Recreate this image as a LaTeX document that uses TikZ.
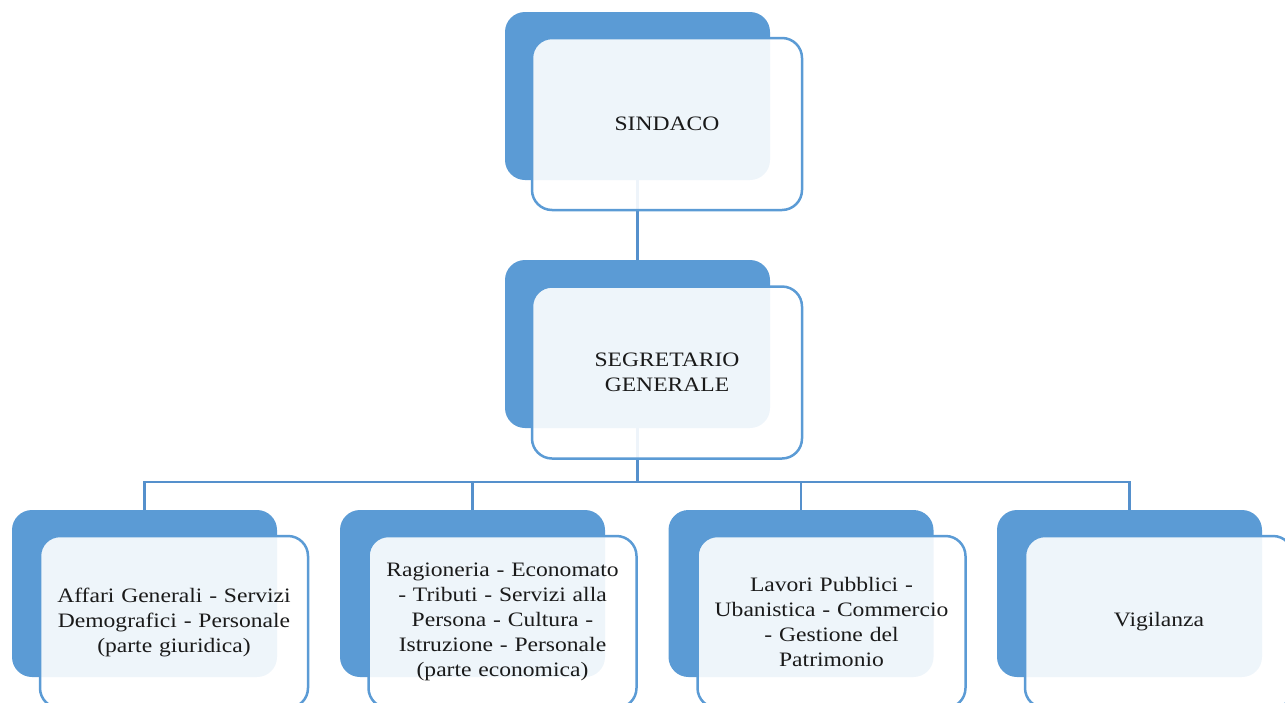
\documentclass[tikz,border=0pt]{standalone}
\usepackage{fontspec}
\setmainfont{Liberation Serif}[FakeStretch=1.15, WordSpace=0.75]
\definecolor{boxblue}{HTML}{5B9BD5}
\definecolor{linkblue}{HTML}{5590CC}
\definecolor{txt}{HTML}{1A1A1A}
\begin{document}
\begin{tikzpicture}[x=1pt,y=-1pt,
  darkbox/.style={rectangle, rounded corners=20pt, fill=boxblue, draw=none,
    minimum width=265pt, minimum height=168pt, inner sep=0pt},
  frontbox/.style={rectangle, rounded corners=20pt, draw=boxblue, line width=2.5pt,
    fill=white, fill opacity=0.9, text opacity=1, text=txt,
    minimum width=268pt, minimum height=172pt, inner sep=0pt,
    align=center, text width=262pt, font=\fontsize{20.5}{25}\selectfont},
  link/.style={draw=linkblue, line width=2.5pt}]
\useasboundingbox (0,0) rectangle (1285,702);
\clip (0,0) rectangle (1285,702);
% back boxes
\node[darkbox] (sd) at (637.5,96) {};
\node[darkbox] (gd) at (637.5,344) {};
\node[darkbox, minimum height=167pt] (c1d) at (144.5,593.5) {};
\node[darkbox, minimum height=167pt] (c2d) at (472.5,593.5) {};
\node[darkbox, minimum height=167pt] (c3d) at (801,593.5) {};
\node[darkbox, minimum height=167pt] (c4d) at (1129.5,593.5) {};
% connectors
\draw[link] (sd.south) -- (gd.north);
\draw[link] (gd.south) -- ++(0,54) -| (c1d.north);
\draw[link] (gd.south) -- ++(0,54) -| (c2d.north);
\draw[link] (gd.south) -- ++(0,54) -| (c3d.north);
\draw[link] (gd.south) -- ++(0,54) -| (c4d.north);
% front boxes
\node[frontbox, minimum width=270pt] (sf) at (667,124) {SINDACO};
\node[frontbox, minimum width=270pt] (gf) at (667,372.5) {SEGRETARIO\\GENERALE};
\node[frontbox] (c1f) at (174,622) {Affari Generali - Servizi\\Demografici - Personale\\(parte giuridica)};
\node[frontbox] (c2f) at (502.5,622) {Ragioneria - Economato\\- Tributi - Servizi alla\\Persona - Cultura -\\Istruzione - Personale\\(parte economica)};
\node[frontbox] (c3f) at (831.5,622) {Lavori Pubblici -\\Ubanistica - Commercio\\- Gestione del\\Patrimonio};
\node[frontbox] (c4f) at (1159,622) {Vigilanza};
\end{tikzpicture}
\end{document}
